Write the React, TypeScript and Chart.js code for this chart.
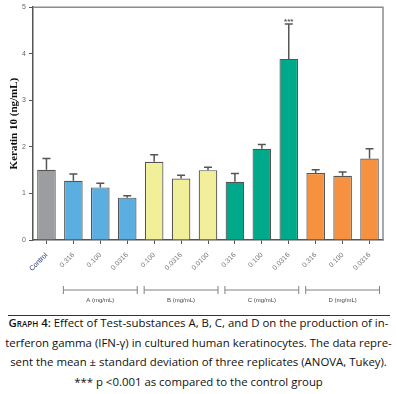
import React, { useEffect, useRef } from "react";
import { Chart, registerables } from "chart.js";

Chart.register(...registerables);

const categories = ["Control", "0.316", "0.100", "0.0316", "0.100", "0.0316", "0.0100", "0.316", "0.100", "0.0316", "0.316", "0.100", "0.0316"];
const means = [1.51, 1.27, 1.13, 0.91, 1.68, 1.32, 1.5, 1.25, 1.96, 3.89, 1.44, 1.38, 1.75];
const errors = [0.24, 0.15, 0.09, 0.04, 0.15, 0.07, 0.06, 0.18, 0.09, 0.75, 0.07, 0.08, 0.21];
const significance = ["", "", "", "", "", "", "", "", "", "***", "", "", ""];
const barColors = ["#9b9da0", "#5aaee0", "#5aaee0", "#5aaee0", "#f1ef9a", "#f1ef9a", "#f1ef9a", "#00a98a", "#00a98a", "#00a98a", "#f5913f", "#f5913f", "#f5913f"];
const groupLabels = ["A (mg/mL)", "B (mg/mL)", "C (mg/mL)", "D (mg/mL)"];
const groupStart = [1, 4, 7, 10];
const groupEnd = [3, 6, 9, 12];
const yTicks = [0, 1, 2, 3, 4, 5];

const errorBarPlugin = {
  id: "errorBars",
  afterDatasetsDraw(chart: any) {
    const ctx = chart.ctx;
    const meta = chart.getDatasetMeta(0);
    const y = chart.scales.y;
    ctx.save();
    ctx.strokeStyle = "#555";
    ctx.lineWidth = 1.5;
    meta.data.forEach((bar: any, i: number) => {
      const top = y.getPixelForValue(means[i] + errors[i]);
      ctx.beginPath();
      ctx.moveTo(bar.x, bar.y);
      ctx.lineTo(bar.x, top);
      ctx.moveTo(bar.x - 4, top);
      ctx.lineTo(bar.x + 4, top);
      ctx.stroke();
      if (significance[i]) {
        ctx.fillStyle = "#555";
        ctx.font = "bold 8px Arial";
        ctx.textAlign = "center";
        ctx.textBaseline = "bottom";
        ctx.fillText(significance[i], bar.x, top + 2);
      }
    });
    ctx.restore();
  },
  afterDraw(chart: any) {
    const ctx = chart.ctx;
    const a = chart.chartArea;
    const x = chart.scales.x;
    ctx.save();
    ctx.strokeStyle = "#8c8c8c";
    ctx.lineWidth = 1.5;
    ctx.beginPath();
    ctx.moveTo(a.left, a.top);
    ctx.lineTo(a.right, a.top);
    ctx.lineTo(a.right, a.bottom);
    ctx.stroke();
    ctx.strokeStyle = "#808080";
    ctx.lineWidth = 1;
    ctx.fillStyle = "#444";
    ctx.font = "6px Arial";
    ctx.textAlign = "center";
    ctx.textBaseline = "middle";
    const by = 290;
    groupLabels.forEach((lab, g) => {
      const x0 = x.getPixelForValue(groupStart[g]) - 10;
      const x1 = x.getPixelForValue(groupEnd[g]) + 10;
      ctx.beginPath();
      ctx.moveTo(x0, by);
      ctx.lineTo(x1, by);
      ctx.moveTo(x0, by - 4);
      ctx.lineTo(x0, by + 4);
      ctx.moveTo(x1, by - 4);
      ctx.lineTo(x1, by + 4);
      ctx.stroke();
      ctx.fillText(lab, (x0 + x1) / 2, by + 10);
    });
    ctx.restore();
  },
};

export default function App() {
  const ref = useRef<HTMLCanvasElement | null>(null);
  useEffect(() => {
    if (!ref.current) return;
    const chart = new Chart(ref.current, {
      type: "bar",
      data: {
        labels: categories,
        datasets: [
          {
            data: means,
            backgroundColor: barColors,
            borderColor: "#555",
            borderWidth: 1.2,
            barPercentage: 0.69,
            categoryPercentage: 1,
          },
        ],
      },
      options: {
        responsive: false,
        maintainAspectRatio: false,
        animation: false,
        layout: { padding: { top: 6, right: 14, left: 0, bottom: 0 } },
        plugins: { legend: { display: false }, tooltip: { enabled: false } },
        scales: {
          x: {
            grid: { display: true, drawOnChartArea: false, offset: false, tickLength: 4, color: "#555", lineWidth: 1 },
            border: { color: "#555", width: 1.5 },
            ticks: {
              minRotation: 45,
              maxRotation: 45,
              padding: 7,
              font: { size: 7, family: "Arial" },
              color: categories.map((c, i) => (i === 0 ? "#1c2a6a" : "#777")),
            },
            afterFit(scale: any) {
              scale.height = 70;
            },
          },
          y: {
            min: 0,
            max: 5,
            afterBuildTicks(scale: any) {
              scale.ticks = yTicks.map((v) => ({ value: v }));
            },
            grid: { display: true, drawOnChartArea: false, tickLength: 4, color: "#555" },
            border: { color: "#555", width: 1.5 },
            ticks: { font: { size: 7, family: "Arial" }, color: "#666", padding: 3 },
            title: {
              display: true,
              text: "Keratin 10 (ng/mL)",
              font: { size: 11, weight: "bold", family: "Liberation Serif" },
              color: "#111",
              padding: { top: 8, bottom: 0 },
            },
            afterFit(scale: any) {
              scale.width = 33;
            },
          },
        },
      },
      plugins: [errorBarPlugin],
    } as any);
    return () => chart.destroy();
  }, []);

  return (
    <div style={{ position: "absolute", left: 0, top: 0, width: 397, height: 394, background: "#fff", overflow: "hidden" }}>
      <canvas ref={ref} width={397} height={310} style={{ display: "block" }} />
      <div style={{ position: "absolute", left: 8, top: 315, width: 382, borderTop: "1.5px solid #333" }} />
      <div
        style={{
          position: "absolute",
          left: 0,
          top: 313,
          width: 397,
          textAlign: "center",
          fontFamily: "'Open Sans', sans-serif",
          fontSize: 11.4,
          lineHeight: "19.5px",
          color: "#111",
          whiteSpace: "nowrap",
        }}
      >
        <span style={{ fontVariant: "small-caps", fontWeight: 600 }}>Graph 4:</span> Effect of Test-substances A, B, C, and D on the production of in-
        <br />
        terferon gamma (IFN-γ) in cultured human keratinocytes. The data repre-
        <br />
        sent the mean ± standard deviation of three replicates (ANOVA, Tukey).
        <br />
        *** p &lt;0.001 as compared to the control group
      </div>
    </div>
  );
}
